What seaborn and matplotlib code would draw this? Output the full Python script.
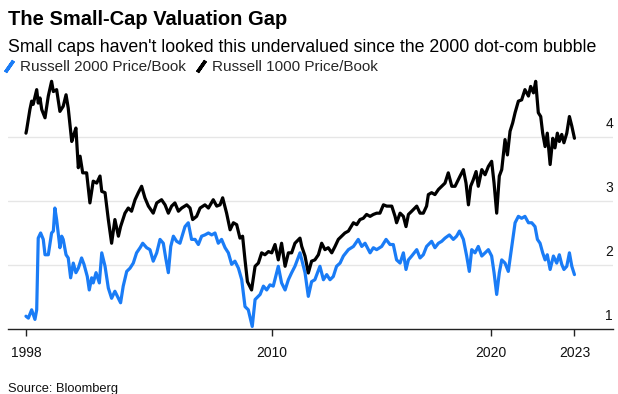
import numpy as np
import pandas as pd
import matplotlib
matplotlib.use("Agg")
import matplotlib.pyplot as plt
from matplotlib.lines import Line2D
import seaborn as sns

# ---------------- data ----------------
r1000_years = [1998.76, 1998.79, 1998.94, 1999.02, 1999.09, 1999.25, 1999.32, 1999.40, 1999.48, 1999.63,
               1999.78, 1999.93, 2000.01, 2000.16, 2000.31, 2000.46, 2000.59, 2000.69, 2000.85, 2000.92,
               2001.04, 2001.15, 2001.23, 2001.35, 2001.53, 2001.68, 2001.83, 2001.99, 2002.14, 2002.22,
               2002.37, 2002.52, 2002.67, 2002.82, 2002.98, 2003.08, 2003.28, 2003.43, 2003.58, 2003.74,
               2003.89, 2004.04, 2004.19, 2004.35, 2004.57, 2004.73, 2004.95, 2005.11, 2005.26, 2005.41,
               2005.56, 2005.72, 2005.87, 2006.10, 2006.25, 2006.37, 2006.55, 2006.71, 2006.93, 2007.09,
               2007.31, 2007.47, 2007.62, 2007.74, 2007.92, 2008.08, 2008.23, 2008.38, 2008.53, 2008.65,
               2008.76, 2008.87, 2009.06, 2009.22, 2009.37, 2009.52, 2009.67, 2009.83, 2009.98, 2010.13,
               2010.28, 2010.43, 2010.59, 2010.74, 2010.89, 2011.04, 2011.27, 2011.35, 2011.50, 2011.65,
               2011.80, 2011.95, 2012.11, 2012.26, 2012.41, 2012.56, 2012.72, 2012.87, 2013.02, 2013.17,
               2013.32, 2013.48, 2013.71, 2013.86, 2014.01, 2014.16, 2014.31, 2014.47, 2014.62, 2014.77,
               2014.92, 2015.08, 2015.23, 2015.46, 2015.61, 2015.68, 2015.84, 2015.99, 2016.11, 2016.22,
               2016.37, 2016.60, 2016.75, 2016.90, 2017.05, 2017.13, 2017.28, 2017.43, 2017.59, 2017.74,
               2017.89, 2018.04, 2018.20, 2018.35, 2018.58, 2018.73, 2018.85, 2018.96, 2019.06, 2019.18,
               2019.31, 2019.41, 2019.57, 2019.72, 2019.87, 2020.02, 2020.13, 2020.25, 2020.37, 2020.48,
               2020.63, 2020.74, 2020.86, 2020.98, 2021.09, 2021.24, 2021.39, 2021.54, 2021.70, 2021.80,
               2021.93, 2022.03, 2022.15, 2022.26, 2022.35, 2022.46, 2022.56, 2022.69, 2022.81, 2022.91,
               2023.02, 2023.11, 2023.22, 2023.32, 2023.45, 2023.57, 2023.68, 2023.80]
r1000_pb = [4.06, 4.11, 4.43, 4.56, 4.51, 4.74, 4.53, 4.61, 4.43, 4.30,
            4.64, 4.87, 4.71, 4.74, 4.40, 4.48, 4.66, 4.45, 3.93, 4.01,
            4.14, 3.52, 3.70, 3.44, 3.44, 2.97, 3.31, 3.28, 3.39, 3.15,
            3.13, 2.71, 2.34, 2.71, 2.45, 2.60, 2.81, 2.89, 2.84, 3.02,
            3.13, 3.23, 3.05, 2.92, 2.81, 2.97, 3.02, 2.94, 2.81, 2.92,
            2.97, 2.84, 2.89, 2.94, 2.89, 2.71, 2.76, 2.89, 2.94, 2.89,
            3.02, 2.92, 2.94, 3.05, 2.81, 2.55, 2.66, 2.63, 2.42, 2.45,
            2.08, 1.74, 1.61, 1.98, 2.03, 2.19, 2.16, 2.21, 2.19, 2.32,
            2.08, 2.34, 1.98, 2.19, 2.19, 2.34, 2.42, 2.29, 2.14, 1.875,
            2.06, 2.08, 2.16, 2.34, 2.24, 2.27, 2.19, 2.29, 2.40, 2.45,
            2.50, 2.53, 2.66, 2.63, 2.71, 2.73, 2.79, 2.76, 2.79, 2.81,
            2.81, 2.94, 2.92, 2.92, 2.76, 2.66, 2.81, 2.76, 2.60, 2.79,
            2.84, 2.92, 2.81, 2.81, 2.92, 3.10, 3.13, 3.10, 3.18, 3.23,
            3.28, 3.44, 3.23, 3.23, 3.39, 3.49, 3.28, 2.94, 3.23, 3.33,
            3.46, 3.23, 3.49, 3.41, 3.54, 3.62, 3.28, 2.81, 3.39, 3.49,
            3.96, 3.72, 4.09, 4.22, 4.38, 4.56, 4.58, 4.74, 4.64, 4.79,
            4.69, 4.87, 4.38, 4.32, 4.06, 3.85, 4.06, 3.57, 3.98, 3.83,
            4.06, 3.93, 4.04, 3.91, 4.06, 4.32, 4.17, 3.98]

r2000_years = [1998.76, 1998.87, 1999.02, 1999.17, 1999.25, 1999.32, 1999.43, 1999.55, 1999.63, 1999.78,
               1999.93, 2000.01, 2000.08, 2000.16, 2000.31, 2000.39, 2000.46, 2000.59, 2000.69, 2000.80,
               2000.92, 2001.04, 2001.15, 2001.30, 2001.41, 2001.56, 2001.65, 2001.76, 2001.83, 2001.96,
               2002.11, 2002.22, 2002.37, 2002.52, 2002.67, 2002.82, 2002.98, 2003.08, 2003.20, 2003.36,
               2003.51, 2003.66, 2003.81, 2003.97, 2004.09, 2004.27, 2004.42, 2004.57, 2004.73, 2004.88,
               2005.03, 2005.14, 2005.26, 2005.37, 2005.49, 2005.64, 2005.79, 2006.02, 2006.17, 2006.32,
               2006.48, 2006.63, 2006.78, 2006.93, 2007.09, 2007.24, 2007.39, 2007.54, 2007.69, 2007.85,
               2008.00, 2008.15, 2008.30, 2008.46, 2008.61, 2008.76, 2008.91, 2009.09, 2009.22, 2009.45,
               2009.60, 2009.75, 2009.90, 2010.05, 2010.28, 2010.43, 2010.59, 2010.74, 2010.89, 2011.04,
               2011.27, 2011.35, 2011.50, 2011.65, 2011.80, 2011.95, 2012.18, 2012.34, 2012.49, 2012.64,
               2012.79, 2012.94, 2013.10, 2013.25, 2013.48, 2013.71, 2013.93, 2014.09, 2014.24, 2014.47,
               2014.62, 2014.77, 2015.00, 2015.20, 2015.38, 2015.53, 2015.68, 2015.84, 2015.99, 2016.11,
               2016.22, 2016.37, 2016.60, 2016.75, 2016.90, 2017.05, 2017.28, 2017.43, 2017.59, 2017.74,
               2017.89, 2018.09, 2018.27, 2018.42, 2018.55, 2018.73, 2018.88, 2019.00, 2019.11, 2019.26,
               2019.41, 2019.57, 2019.72, 2019.87, 2020.02, 2020.13, 2020.25, 2020.37, 2020.48, 2020.63,
               2020.78, 2020.94, 2021.09, 2021.24, 2021.39, 2021.54, 2021.70, 2021.85, 2022.00, 2022.11,
               2022.23, 2022.35, 2022.46, 2022.56, 2022.69, 2022.84, 2022.99, 2023.11, 2023.22, 2023.32,
               2023.45, 2023.57, 2023.68, 2023.80]
r2000_pb = [1.20, 1.17, 1.30, 1.15, 1.30, 2.42, 2.50, 2.40, 2.16, 2.16,
            2.50, 2.53, 2.89, 2.71, 2.27, 2.45, 2.40, 2.16, 2.11, 1.80,
            2.03, 1.88, 1.95, 2.11, 2.01, 1.82, 1.61, 1.80, 1.72, 1.88,
            1.72, 2.19, 1.98, 1.64, 1.48, 1.59, 1.48, 1.41, 1.67, 1.90,
            1.95, 2.03, 2.19, 2.27, 2.34, 2.27, 2.24, 2.06, 2.19, 2.40,
            2.34, 2.11, 1.88, 2.29, 2.45, 2.37, 2.34, 2.60, 2.66, 2.40,
            2.40, 2.32, 2.45, 2.47, 2.50, 2.47, 2.50, 2.34, 2.40, 2.27,
            2.19, 2.01, 2.06, 1.95, 1.77, 1.35, 1.30, 1.04, 1.46, 1.54,
            1.67, 1.61, 1.69, 1.67, 1.98, 1.72, 1.61, 1.77, 1.88, 1.98,
            2.19, 2.08, 1.88, 1.51, 1.74, 1.77, 1.98, 1.77, 1.85, 1.77,
            1.82, 1.98, 2.03, 2.14, 2.24, 2.29, 2.40, 2.29, 2.34, 2.19,
            2.27, 2.24, 2.29, 2.40, 2.32, 2.32, 2.08, 2.03, 2.19, 1.93,
            2.08, 2.14, 2.24, 2.11, 2.16, 2.29, 2.37, 2.27, 2.34, 2.37,
            2.42, 2.47, 2.40, 2.45, 2.53, 2.40, 2.14, 1.90, 2.24, 2.19,
            2.29, 2.14, 2.19, 2.24, 2.14, 1.88, 1.54, 1.88, 2.08, 2.03,
            1.90, 2.29, 2.66, 2.76, 2.73, 2.76, 2.66, 2.66, 2.60, 2.40,
            2.34, 2.19, 2.08, 2.16, 1.93, 2.14, 2.03, 2.16, 2.01, 1.93,
            1.98, 2.19, 1.98, 1.85]

series_names = ["Russell 2000 Price/Book", "Russell 1000 Price/Book"]
x_tick_pos = [1998.76, 2010, 2020, 2023.80]
x_tick_labels = ["1998", "2010", "2020", "2023"]
y_ticks = [1, 2, 3, 4]

title = "The Small-Cap Valuation Gap"
subtitle = "Small caps haven't looked this undervalued since the 2000 dot-com bubble"
source = "Source: Bloomberg"

# ---------------- build ----------------
df = pd.concat([
    pd.DataFrame({"year": r2000_years, "pb": r2000_pb, "series": series_names[0]}),
    pd.DataFrame({"year": r1000_years, "pb": r1000_pb, "series": series_names[1]}),
], ignore_index=True)

BLUE = "#1a7cf6"
palette = {series_names[0]: BLUE, series_names[1]: "#000000"}

sns.set_theme(style="white")
FONT = ["Liberation Sans", "DejaVu Sans"]
plt.rcParams["font.family"] = FONT

W, H = 618, 394
fig = plt.figure(figsize=(W / 100, H / 100), dpi=100)
ax = fig.add_axes([8 / W, (H - 329) / H, 605 / W, (329 - 73) / H])

sns.lineplot(data=df, x="year", y="pb", hue="series", palette=palette, ax=ax,
             sort=False, estimator=None, legend=False, linewidth=2.3)

ax.set_xlim(1997.94, 2025.56)
ax.set_ylim(1, 5)
ax.set_xlabel("")
ax.set_ylabel("")

for s in ["left", "right", "top"]:
    ax.spines[s].set_visible(False)
ax.spines["bottom"].set_color("#222222")
ax.spines["bottom"].set_linewidth(1.0)

for v in y_ticks[1:]:
    ax.axhline(v, color="#e6e6e6", lw=1.0, zorder=0)
ax.set_yticks([])

ax.set_xticks(x_tick_pos)
ax.set_xticklabels(x_tick_labels)
ax.tick_params(axis="x", direction="out", length=5, width=1, color="#222222",
               pad=7, labelsize=10, labelcolor="#111111", bottom=True)

for v in y_ticks:
    ax.annotate(str(v), xy=(1.0, v), xycoords=("axes fraction", "data"),
                xytext=(0, 9), textcoords="offset pixels", ha="right", va="baseline",
                fontsize=10, color="#111111")

fig.text(8 / W, 1 - 25 / H, title, fontsize=14.5, fontweight="bold", color="#000000",
         va="baseline", ha="left")
fig.text(8 / W, 1 - 52 / H, subtitle, fontsize=12.8, color="#000000", va="baseline", ha="left")
fig.text(8 / W, 1 - 392 / H, source, fontsize=9.3, color="#111111", va="baseline", ha="left")

handles = [Line2D([], [], linestyle="none", marker=(2, 2, -35), markersize=10,
                  markeredgewidth=2.5, color=palette[n]) for n in series_names]
fig.legend(handles, series_names, loc="center left", bbox_to_anchor=(2 / W, 1 - 67 / H),
           ncol=2, frameon=False, handlelength=0.9, handletextpad=0.3, columnspacing=0.5,
           borderpad=0, borderaxespad=0, fontsize=11)

fig.savefig("out.png", dpi=100)
